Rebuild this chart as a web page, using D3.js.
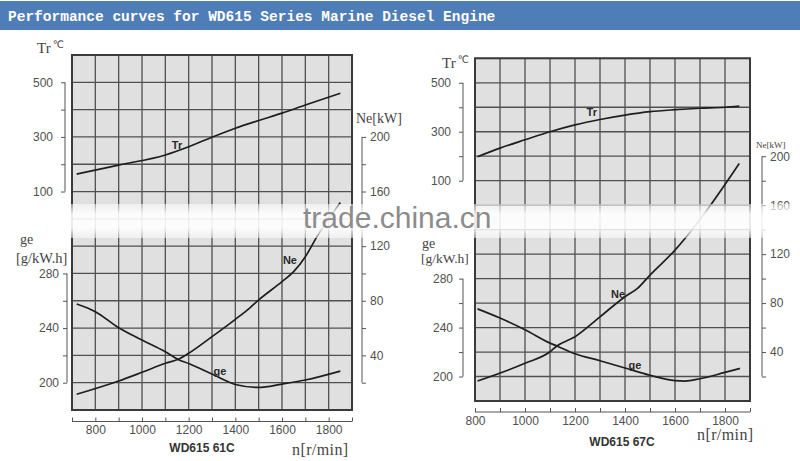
<!DOCTYPE html>
<html><head><meta charset="utf-8">
<script src="https://cdn.jsdelivr.net/npm/d3@7"></script>
<style>body{margin:0;background:#fff}svg{display:block}</style>
</head><body>
<svg id="c" width="800" height="461"></svg>
<script>
// ---------- data ----------
const titleText = "Performance curves for WD615 Series Marine Diesel Engine";
const modelNames = ["WD615 61C", "WD615 67C"];
const xTickLabels = [800, 1000, 1200, 1400, 1600, 1800];
const trTickLabels = [100, 300, 500];
const geTickLabels = [200, 240, 280];
const neTickLabels = [40, 80, 120, 160, 200];

// WD615 61C
const trRpm61 = [720, 900, 1100, 1200, 1300, 1400, 1500, 1600, 1700, 1850];
const trVal61 = [164, 197, 234, 264, 299, 332, 360, 387, 417, 460];
const neRpm61 = [720, 900, 1000, 1100, 1155, 1200, 1300, 1400, 1460, 1500, 1600, 1650, 1700, 1750, 1850];
const neVal61 = [11.5, 21.2, 27.6, 34.2, 37.1, 41.5, 53.7, 66.4, 74.5, 80.6, 94, 101.3, 112.3, 127, 152];
const geRpm61 = [720, 800, 900, 1000, 1100, 1155, 1200, 1300, 1400, 1500, 1600, 1700, 1850];
const geVal61 = [257.6, 252, 240.2, 231.2, 222.6, 217, 214, 206.3, 198.7, 196.5, 199, 202, 208.5];

// WD615 67C
const trRpm67 = [810, 900, 1000, 1100, 1200, 1300, 1400, 1500, 1600, 1700, 1800, 1857];
const trVal67 = [198, 233, 267, 300, 328, 350, 368, 382, 390, 396, 400, 405];
const neRpm67 = [810, 1000, 1100, 1127, 1200, 1300, 1400, 1450, 1500, 1600, 1640, 1747, 1857];
const neVal67 = [16.3, 30.8, 40.2, 44.9, 52.5, 68.8, 85.2, 92, 102.9, 123.3, 132.8, 161.4, 194];
const geRpm67 = [810, 900, 1000, 1100, 1127, 1200, 1300, 1400, 1500, 1600, 1640, 1700, 1800, 1860];
const geVal67 = [255.3, 247.8, 238.2, 227.3, 225, 218.6, 212.9, 207, 201, 196.6, 196.3, 198.2, 203.4, 206.6];

// ---------- drawing ----------
const svg = d3.select("#c");
svg.append("rect").attr("width", 800).attr("height", 461).attr("fill", "#fff");

svg.append("rect").attr("x", 0).attr("y", 1).attr("width", 800).attr("height", 29).attr("fill", "#4f7db8");
svg.append("text").attr("x", 8).attr("y", 20.5).text(titleText)
  .attr("fill", "#fff").attr("font-family", "Liberation Mono, monospace")
  .attr("font-weight", "bold").attr("font-size", 14.5);

const sansF = "Liberation Sans, Arial, sans-serif";
const serifF = "Liberation Serif, Times New Roman, serif";

const charts = [
  {
    model: modelNames[0], xDomain: [700, 1900], left: 72, right: 352, top: 55, bottom: 410,
    trDomain: [-700, 600], geDomain: [180, 440], neDomain: [0, 260],
    trAxisX: 65, trPad: 8, geAxisX: 67, gePad: 4, neAxisX: 362,
    xAxisY: 421.5, modelX: 202, modelY: 452, unitX: 292, unitY: 455,
    trLabel: [37, 53], geLabel: [20, 244], geUnit: [16, 263, 14.5], neUnit: [356, 123, 14],
    tr: [trRpm61, trVal61], ne: [neRpm61, neVal61], ge: [geRpm61, geVal61],
    lblTr: [1150, 270], lblNe: [1634, 110], lblGe: [1334, 208.7]
  },
  {
    model: modelNames[1], xDomain: [800, 1900], left: 475, right: 750, top: 58.3, bottom: 401,
    trDomain: [-800, 600], geDomain: [180, 460], neDomain: [0, 280],
    trAxisX: 463, trPad: 8, geAxisX: 463, gePad: 6, neAxisX: 762,
    xAxisY: 412, modelX: 622, modelY: 446, unitX: 697, unitY: 440,
    trLabel: [442, 68], geLabel: [422, 247.5], geUnit: [421, 263, 13.5], neUnit: [756, 147.5, 9],
    tr: [trRpm67, trVal67], ne: [neRpm67, neVal67], ge: [geRpm67, geVal67],
    lblTr: [1267, 378], lblNe: [1372, 87], lblGe: [1440, 209.6]
  }
];

function drawChart(cfg) {
  const g = svg.append("g");
  const x = d3.scaleLinear().domain(cfg.xDomain).range([cfg.left, cfg.right]);
  const yTr = d3.scaleLinear().domain(cfg.trDomain).range([cfg.bottom, cfg.top]);
  const yGe = d3.scaleLinear().domain(cfg.geDomain).range([cfg.bottom, cfg.top]);
  const yNe = d3.scaleLinear().domain(cfg.neDomain).range([cfg.bottom, cfg.top]);

  g.append("rect").attr("x", cfg.left).attr("y", cfg.top)
    .attr("width", cfg.right - cfg.left).attr("height", cfg.bottom - cfg.top).attr("fill", "#e0e0e0");
  g.selectAll(null).data(d3.range(cfg.xDomain[0], cfg.xDomain[1] + 1, 100)).join("line")
    .attr("x1", d => x(d)).attr("x2", d => x(d)).attr("y1", cfg.top).attr("y2", cfg.bottom)
    .attr("stroke", "#505050").attr("stroke-width", 1.3);
  g.selectAll(null).data(d3.range(cfg.trDomain[0], cfg.trDomain[1] + 1, 100)).join("line")
    .attr("y1", d => yTr(d)).attr("y2", d => yTr(d)).attr("x1", cfg.left).attr("x2", cfg.right)
    .attr("stroke", "#505050").attr("stroke-width", 1.3);
  g.append("rect").attr("x", cfg.left).attr("y", cfg.top)
    .attr("width", cfg.right - cfg.left).attr("height", cfg.bottom - cfg.top)
    .attr("fill", "none").attr("stroke", "#3a3a3a").attr("stroke-width", 2);

  // curves
  const mk = (ys) => d3.line().x(d => x(d[0])).y(d => ys(d[1])).curve(d3.curveMonotoneX);
  const pairs = (a) => a[0].map((r, i) => [r, a[1][i]]);
  [[cfg.tr, yTr], [cfg.ne, yNe], [cfg.ge, yGe]].forEach(([s, ys]) => {
    g.append("path").attr("d", mk(ys)(pairs(s))).attr("fill", "none")
      .attr("stroke", "#1e1e1e").attr("stroke-width", 1.7);
  });
  // curve labels
  [["Tr", cfg.lblTr, yTr], ["Ne", cfg.lblNe, yNe], ["ge", cfg.lblGe, yGe]].forEach(([t, p, ys]) => {
    g.append("text").attr("x", x(p[0])).attr("y", ys(p[1])).attr("text-anchor", "middle")
      .attr("dy", "0.35em").attr("font-family", sansF).attr("font-weight", "bold")
      .attr("font-size", 11).attr("fill", "#2a2a2a").text(t);
  });

  const styleAxis = (sel) => {
    sel.selectAll(".tick line").attr("stroke", "#555").attr("stroke-width", 1);
    sel.selectAll(".tick text").attr("font-family", sansF).attr("font-size", 12).attr("fill", "#505050");
    sel.select(".domain").remove();
  };

  // Tr axis (left)
  const trAx = g.append("g").attr("transform", `translate(${cfg.trAxisX},0)`)
    .call(d3.axisLeft(yTr).tickValues(d3.range(100, 501, 100)).tickSize(4).tickPadding(cfg.trPad)
      .tickFormat(d => trTickLabels.includes(d) ? d : ""));
  styleAxis(trAx);
  trAx.append("line").attr("y1", yTr(100)).attr("y2", yTr(500)).attr("stroke", "#555");

  // ge axis (left)
  const geAx = g.append("g").attr("transform", `translate(${cfg.geAxisX},0)`)
    .call(d3.axisLeft(yGe).tickValues(d3.range(200, 281, 20)).tickSize(4).tickPadding(cfg.gePad)
      .tickFormat(d => geTickLabels.includes(d) ? d : ""));
  styleAxis(geAx);
  geAx.append("line").attr("y1", yGe(200)).attr("y2", yGe(280)).attr("stroke", "#555");

  // Ne axis (right)
  const neAx = g.append("g").attr("transform", `translate(${cfg.neAxisX},0)`)
    .call(d3.axisRight(yNe).tickValues(d3.range(20, 201, 20)).tickSize(4).tickPadding(4)
      .tickFormat(d => neTickLabels.includes(d) ? d : ""));
  styleAxis(neAx);
  neAx.append("line").attr("y1", yNe(20)).attr("y2", yNe(200)).attr("stroke", "#555");

  // x axis
  const xAx = g.append("g").attr("transform", `translate(0,${cfg.xAxisY})`)
    .call(d3.axisBottom(x).tickValues(d3.range(cfg.xDomain[0], cfg.xDomain[1] + 1, 100))
      .tickSize(-4).tickPadding(4).tickFormat(d => xTickLabels.includes(d) ? d : ""));
  styleAxis(xAx);
  xAx.append("line").attr("x1", x(cfg.xDomain[0])).attr("x2", x(cfg.xDomain[1])).attr("stroke", "#555");

  // titles
  g.append("text").attr("x", cfg.modelX).attr("y", cfg.modelY).attr("text-anchor", "middle")
    .attr("font-family", sansF).attr("font-weight", "bold").attr("font-size", 12).attr("fill", "#333")
    .text(cfg.model);
  g.append("text").attr("x", cfg.unitX).attr("y", cfg.unitY).attr("font-family", serifF)
    .attr("font-size", 16).attr("letter-spacing", 0.4).attr("fill", "#444").text("n[r/min]");
  const tt = g.append("text").attr("x", cfg.trLabel[0]).attr("y", cfg.trLabel[1])
    .attr("font-family", serifF).attr("font-size", 15).attr("fill", "#444");
  tt.append("tspan").text("Tr");
  tt.append("tspan").attr("dy", -5).attr("dx", 2).attr("font-size", 10)
    .attr("font-family", "DejaVu Sans, sans-serif").text("℃");
  g.append("text").attr("x", cfg.geLabel[0]).attr("y", cfg.geLabel[1]).attr("font-family", serifF)
    .attr("font-size", 14).attr("fill", "#444").text("ge");
  g.append("text").attr("x", cfg.geUnit[0]).attr("y", cfg.geUnit[1]).attr("font-family", serifF)
    .attr("font-size", cfg.geUnit[2]).attr("fill", "#444").text("[g/kW.h]");
  g.append("text").attr("x", cfg.neUnit[0]).attr("y", cfg.neUnit[1]).attr("font-family", serifF)
    .attr("font-size", cfg.neUnit[2]).attr("fill", "#444").text("Ne[kW]");
}

charts.forEach(drawChart);

// watermark band
const defs = svg.append("defs");
const grad = defs.append("linearGradient").attr("id", "wm").attr("x1", 0).attr("x2", 0).attr("y1", 0).attr("y2", 1);
grad.append("stop").attr("offset", "0%").attr("stop-color", "#fff").attr("stop-opacity", 0.5);
grad.append("stop").attr("offset", "30%").attr("stop-color", "#fff").attr("stop-opacity", 0.9);
grad.append("stop").attr("offset", "70%").attr("stop-color", "#fff").attr("stop-opacity", 0.9);
grad.append("stop").attr("offset", "100%").attr("stop-color", "#fff").attr("stop-opacity", 0.5);
svg.append("rect").attr("x", 58).attr("y", 204).attr("width", 732).attr("height", 34).attr("fill", "url(#wm)");
svg.append("text").attr("x", 303).attr("y", 228).attr("font-family", sansF).attr("font-size", 30)
  .attr("fill", "#8c8c8c").text("trade.china.cn");
</script>
</body></html>
